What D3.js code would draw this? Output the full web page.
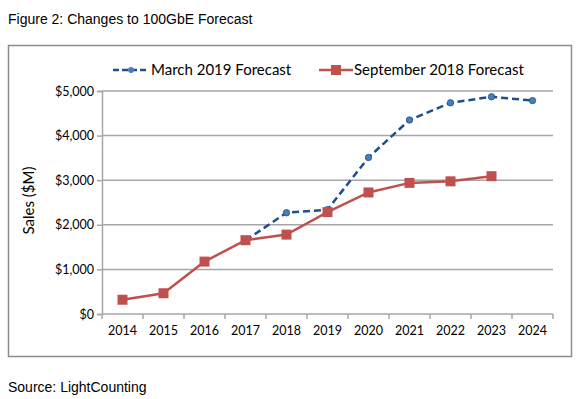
<!DOCTYPE html>
<html>
<head>
<meta charset="utf-8">
<script src="https://cdn.jsdelivr.net/npm/d3@7"></script>
<style>
  body { margin: 0; background: #fff; }
</style>
</head>
<body>
<div class="d3-container"></div>
<script>
const years = ["2014", "2015", "2016", "2017", "2018", "2019", "2020", "2021", "2022", "2023", "2024"];
const marchYears = ["2017", "2018", "2019", "2020", "2021", "2022", "2023", "2024"];
const marchValues = [1650, 2270, 2340, 3510, 4350, 4735, 4870, 4785];
const septYears = ["2014", "2015", "2016", "2017", "2018", "2019", "2020", "2021", "2022", "2023"];
const septValues = [320, 465, 1175, 1655, 1780, 2285, 2725, 2940, 2975, 3090];
const yTicks = [0, 1000, 2000, 3000, 4000, 5000];
const seriesNames = ["March 2019 Forecast", "September 2018 Forecast"];

const W = 580, H = 399;
const margin = { top: 91, right: 27, bottom: 85, left: 102 },
    width = W - margin.left - margin.right,
    height = H - margin.top - margin.bottom;

const root = d3.select(".d3-container").append("svg")
    .attr("width", W).attr("height", H)
    .style("font-family", "Arial, 'Liberation Sans', sans-serif");

root.append("text").attr("x", 8).attr("y", 24)
    .style("font-size", "14px").text("Figure 2: Changes to 100GbE Forecast");
root.append("text").attr("x", 8).attr("y", 392)
    .style("font-size", "14px").text("Source: LightCounting");

// chart frame
root.append("rect").attr("x", 8.5).attr("y", 45.5).attr("width", 563).attr("height", 311)
    .attr("fill", "none").attr("stroke", "#8c8c8c").attr("stroke-width", 1.5);

const svg = root.append("g").attr("transform", `translate(${margin.left},${margin.top})`);

const x = d3.scaleBand().domain(years).range([0, width]);
const y = d3.scaleLinear().domain([0, 5000]).range([height, 0]);

const labelFont = "Lato, Carlito, 'Open Sans', sans-serif";

// gridlines
svg.append("g").selectAll("line").data(yTicks.slice(1)).join("line")
    .attr("x1", 0).attr("x2", width)
    .attr("y1", d => y(d)).attr("y2", d => y(d))
    .attr("stroke", "#a6a6a6").attr("stroke-width", 1.5);

// y axis
const yAxis = svg.append("g")
    .call(d3.axisLeft(y).tickValues(yTicks).tickSize(5).tickFormat(d => "$" + d3.format(",")(d)));
yAxis.select(".domain").attr("stroke", "#a6a6a6").attr("stroke-width", 1.5);
yAxis.selectAll(".tick line").attr("stroke", "#a6a6a6").attr("stroke-width", 1.5);
yAxis.selectAll("text").attr("x", -8).style("font-family", labelFont).style("font-size", "12.5px").attr("fill", "#000");

// x axis: ticks on category boundaries
const xAxis = svg.append("g").attr("transform", `translate(0,${height})`);
xAxis.append("line").attr("x1", 0).attr("x2", width)
    .attr("stroke", "#a6a6a6").attr("stroke-width", 1.5);
xAxis.selectAll(".bt").data(years.map(d => x(d)).concat([width])).join("line")
    .attr("x1", d => d).attr("x2", d => d).attr("y1", 0).attr("y2", 5)
    .attr("stroke", "#a6a6a6").attr("stroke-width", 1.5);
xAxis.selectAll("text").data(years).join("text")
    .attr("x", d => x(d) + x.bandwidth() / 2).attr("y", 21)
    .attr("text-anchor", "middle")
    .style("font-family", labelFont).style("font-size", "12.5px").text(d => d);

// y title
svg.append("text").attr("transform", `translate(-68,${height / 2 - 2}) rotate(-90)`)
    .attr("text-anchor", "middle")
    .style("font-family", labelFont).style("font-size", "15px").text("Sales ($M)");

const cx = d => x(d) + x.bandwidth() / 2;
const line = d3.line().x(d => cx(d[0])).y(d => y(d[1]));

const blue = "#1f4e8c", red = "#c0504d";
const march = marchYears.map((d, i) => [d, marchValues[i]]);
const sept = septYears.map((d, i) => [d, septValues[i]]);

svg.append("path").datum(march).attr("d", line).attr("fill", "none")
    .attr("stroke", blue).attr("stroke-width", 2.5).attr("stroke-dasharray", "7,4");
svg.selectAll(".mpt").data(march.slice(1)).join("circle")
    .attr("cx", d => cx(d[0])).attr("cy", d => y(d[1])).attr("r", 3.2)
    .attr("fill", "#4a7ebb").attr("stroke", blue).attr("stroke-width", 0.8);

svg.append("path").datum(sept).attr("d", line).attr("fill", "none")
    .attr("stroke", red).attr("stroke-width", 2.5);
svg.selectAll(".spt").data(sept).join("rect")
    .attr("x", d => cx(d[0]) - 5).attr("y", d => y(d[1]) - 5)
    .attr("width", 10).attr("height", 10).attr("fill", red);

// legend
const leg = root.append("g").style("font-family", labelFont).style("font-size", "15px");
const lg1 = leg.append("g").attr("transform", "translate(113,70)");
lg1.append("line").attr("x1", 0).attr("x2", 36).attr("stroke", blue)
    .attr("stroke-width", 2.5).attr("stroke-dasharray", "6,3");
lg1.append("circle").attr("cx", 18).attr("r", 3).attr("fill", "#4a7ebb");
lg1.append("text").attr("x", 38).attr("dy", "0.35em").text(seriesNames[0]);
const lg2 = leg.append("g").attr("transform", "translate(319,70)");
lg2.append("line").attr("x1", 0).attr("x2", 34).attr("stroke", red).attr("stroke-width", 2.5);
lg2.append("rect").attr("x", 12).attr("y", -5).attr("width", 10).attr("height", 10).attr("fill", red);
lg2.append("text").attr("x", 35).attr("dy", "0.35em").text(seriesNames[1]);
</script>
</body>
</html>
